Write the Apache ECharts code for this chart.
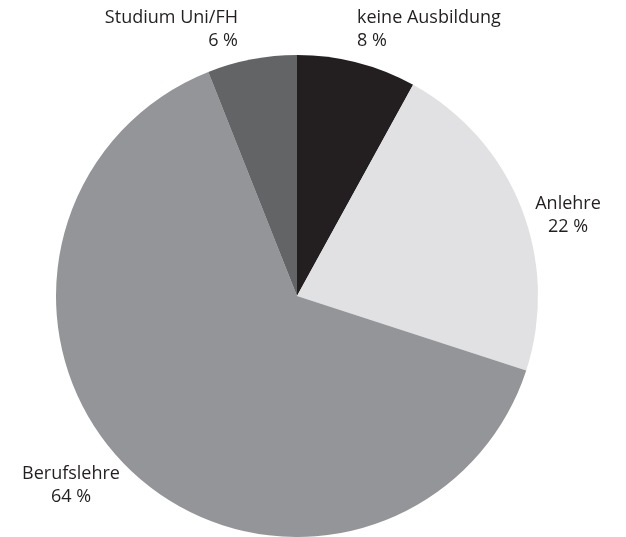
<!DOCTYPE html>
<html>
<head>
<meta charset="utf-8">
<style>
  html, body { margin: 0; padding: 0; background: #fff; }
  #chart { width: 626px; height: 537px; }
</style>
<script src="https://cdn.jsdelivr.net/npm/echarts@6/dist/echarts.min.js"></script>
</head>
<body>
<div id="chart"></div>
<script>
// Ausbildungsstand (Anteile in Prozent), im Uhrzeigersinn ab 12 Uhr
const categories = ['keine Ausbildung', 'Anlehre', 'Berufslehre', 'Studium Uni/FH'];
const shares = [8, 22, 64, 6];
const sliceColors = ['#231f20', '#e1e1e3', '#939598', '#636466'];

// Label anchor points and alignment for each slice
const labelSpots = [
  { x: 357, y: 29, align: 'left' },
  { x: 568, y: 215, align: 'center' },
  { x: 71, y: 485, align: 'center' },
  { x: 238, y: 29, align: 'right' }
];

const chart = echarts.init(document.getElementById('chart'), null, { renderer: 'canvas' });

chart.setOption({
  animation: false,
  backgroundColor: '#ffffff',
  series: [{
    type: 'pie',
    center: [297, 296],
    radius: [0, 241],
    startAngle: 90,
    clockwise: true,
    silent: true,
    avoidLabelOverlap: false,
    itemStyle: { borderWidth: 0 },
    label: {
      show: true,
      position: 'outside',
      alignTo: 'none',
      overflow: 'none',
      width: 300,
      formatter: p => p.name + '\n' + p.value + ' %',
      fontFamily: 'Open Sans',
      fontSize: 18,
      lineHeight: 23,
      color: '#231f20'
    },
    labelLine: { show: false },
    labelLayout: p => {
      const s = labelSpots[p.dataIndex];
      return { x: s.x, y: s.y, align: s.align, verticalAlign: 'middle' };
    },
    data: categories.map((name, i) => ({
      name: name,
      value: shares[i],
      itemStyle: { color: sliceColors[i] },
      label: { align: labelSpots[i].align }
    }))
  }]
});
</script>
</body>
</html>
